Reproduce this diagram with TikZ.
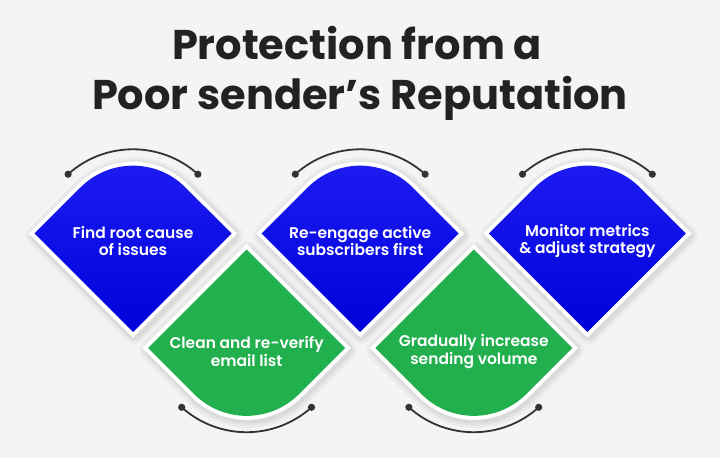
\documentclass[tikz,border=0pt]{standalone}
\usepackage{fontspec}
\setmainfont{Poppins}
\newfontfamily\semib{Poppins SemiBold}
\usetikzlibrary{calc}
\definecolor{bg}{HTML}{F4F4F4}
\definecolor{blueA}{HTML}{1C1CF2}
\definecolor{blueB}{HTML}{0000DA}
\definecolor{grn}{HTML}{22B04E}
\definecolor{ink}{HTML}{222222}
\definecolor{arcc}{HTML}{333333}
\tikzset{
  x=1pt, y=1pt,
  bluepath/.style={insert path={(-98.5,0) -- (-52.33,46.17) arc[start angle=135,end angle=45,radius=74] -- (98.5,0) -- (0,-98.5) -- cycle}},
  greenpath/.style={insert path={(-98.5,0) -- (0,98.5) -- (98.5,0) -- (52.33,-46.17) arc[start angle=-45,end angle=-135,radius=74] -- cycle}},
  halo/.style={draw=black, draw opacity=0.035, line width=#1, line join=round},
  border/.style={draw=white, line width=8pt, line join=miter, fill=white},
  bluefill/.style={top color=blueA, bottom color=blueB},
  greenfill/.style={fill=grn},
  arcline/.style={draw=arcc, line width=1.8pt},
  dotmark/.style={fill=arcc},
  lbl/.style={text=white, align=center, font=\semib\fontsize{15.5}{17.7}\selectfont, inner sep=0pt},
  titletext/.style={text=ink, font=\bfseries\fontsize{41.5}{50}\selectfont, inner sep=0pt, anchor=base},
}
\begin{document}
\begin{tikzpicture}
\fill[bg] (0,0) rectangle (720,458);
\useasboundingbox (0,0) rectangle (720,458);

\node[titletext] (title1) at (357,398) {Protection from a};
\node[titletext] (title2) at (360,348) {Poor sender’s Reputation};

\coordinate (b1) at (133,224.5);
\coordinate (g1) at (246.6,110);
\coordinate (b2) at (360.2,224.5);
\coordinate (g2) at (473.8,110);
\coordinate (b3) at (587.4,224.5);

% soft shadows
\foreach \c in {b1,b2,b3} {
  \begin{scope}[shift={(\c)}, xshift=1.5pt, yshift=-2pt]
    \path[halo=20pt] [bluepath];
    \path[halo=15pt] [bluepath];
    \path[halo=11pt] [bluepath];
  \end{scope}
}
\foreach \c in {g1,g2} {
  \begin{scope}[shift={(\c)}, xshift=1.5pt, yshift=-2pt]
    \path[halo=20pt] [greenpath];
    \path[halo=15pt] [greenpath];
    \path[halo=11pt] [greenpath];
  \end{scope}
}

% shapes
\foreach \c/\t in {b1/{Find root cause\\of issues}, b2/{Re-engage active\\subscribers first}, b3/{Monitor metrics\\\& adjust strategy}} {
  \begin{scope}[shift={(\c)}]
    \path[border] [bluepath];
    \path[bluefill] [bluepath];
    \coordinate (\c-l) at (-64.9,59.3);
    \coordinate (\c-r) at (64.9,59.3);
    \draw[arcline] (\c-l) arc[start angle=132, end angle=48, radius=97];
    \fill[dotmark] (\c-l) circle (3.6);
    \fill[dotmark] (\c-r) circle (3.6);
    \node[lbl] (\c-text) at (0,-7.5) {\t};
  \end{scope}
}
\foreach \c/\t in {g1/{Clean and re-verify\\email list}, g2/{Gradually increase\\sending volume}} {
  \begin{scope}[shift={(\c)}]
    \path[border] [greenpath];
    \path[greenfill] [greenpath];
    \coordinate (\c-l) at (-64.9,-59.3);
    \coordinate (\c-r) at (64.9,-59.3);
    \draw[arcline] (\c-l) arc[start angle=-132, end angle=-48, radius=97];
    \fill[dotmark] (\c-l) circle (3.6);
    \fill[dotmark] (\c-r) circle (3.6);
    \node[lbl] (\c-text) at (0,-3.7) {\t};
  \end{scope}
}
\end{tikzpicture}
\end{document}
